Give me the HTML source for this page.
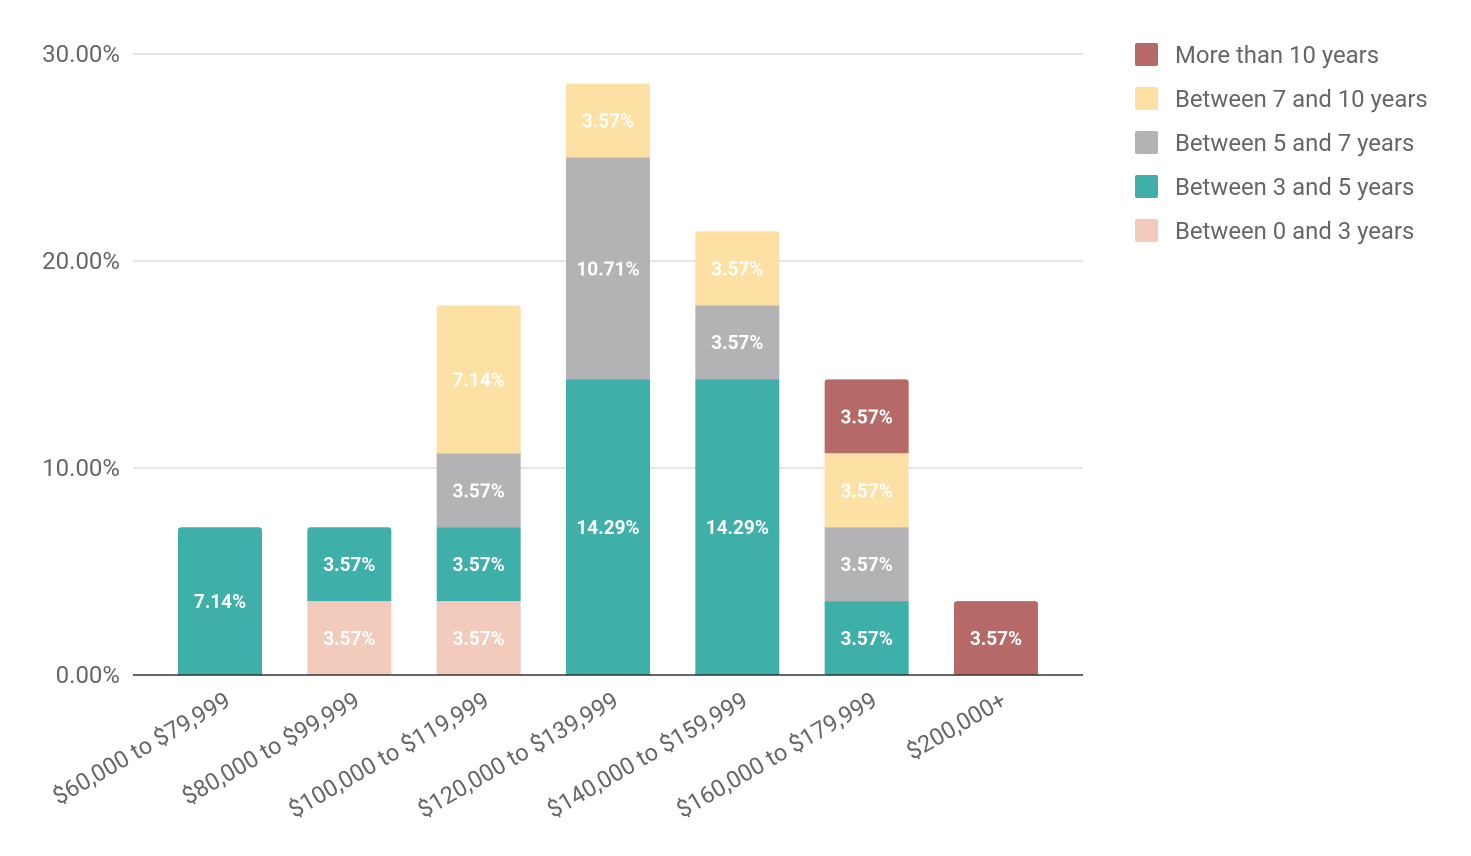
<!DOCTYPE html>
<html><head><meta charset="utf-8"><style>
html,body{margin:0;padding:0;background:#fff;}
svg{display:block;font-family:"Roboto","Liberation Sans",sans-serif;}
</style></head><body>
<svg id="chart" width="1471" height="856"></svg>
<script>
const categories=["$60,000 to $79,999","$80,000 to $99,999","$100,000 to $119,999","$120,000 to $139,999","$140,000 to $159,999","$160,000 to $179,999","$200,000+"];
const seriesNames=["Between 0 and 3 years","Between 3 and 5 years","Between 5 and 7 years","Between 7 and 10 years","More than 10 years"];
const s0to3=[0,3.57,3.57,0,0,0,0];
const s3to5=[7.14,3.57,3.57,14.29,14.29,3.57,0];
const s5to7=[0,0,3.57,10.71,3.57,3.57,0];
const s7to10=[0,0,7.14,3.57,3.57,3.57,0];
const s10plus=[0,0,0,0,0,3.57,3.57];
const yTicks=[0,10,20,30];
const colors=["#f2cbbd","#3fafa9","#b3b3b5","#fde0a3","#b56a68"];
const series=[s0to3,s3to5,s5to7,s7to10,s10plus];
const NS="http://www.w3.org/2000/svg";
const svg=document.getElementById('chart');
const y=v=>675-v*20.7;
const x=i=>220+i*129.33;
const bw=84;
function mk(t,a,p){const e=document.createElementNS(NS,t);for(const k in a)e.setAttribute(k,a[k]);(p||svg).appendChild(e);return e;}
yTicks.forEach(t=>{
  if(t>0){const g=mk('line',{x1:133,x2:1083,y1:y(t),y2:y(t),stroke:'#cccccc','stroke-width':1});
  
  }
  const l=mk('text',{x:120,y:y(t)+8,'text-anchor':'end','font-size':24,fill:'#666'});
  l.textContent=t.toFixed(2)+'%';
  
  
});
categories.forEach((c,i)=>{
  let base=0;let top=-1;
  series.forEach((s,k)=>{if(s[i]>0)top=k;});
  series.forEach((s,k)=>{
    const v=s[i];if(v<=0)return;
    const y1=y(base+v),h=y(base)-y1;
    let r;
    if(k===top){
      const x0=x(i)-bw/2,rr=3;
      r=mk('path',{d:`M${x0},${y(base)}V${y1+rr}Q${x0},${y1} ${x0+rr},${y1}H${x0+bw-rr}Q${x0+bw},${y1} ${x0+bw},${y1+rr}V${y(base)}Z`,fill:colors[k]});
    }else r=mk('rect',{x:x(i)-bw/2,y:y1,width:bw,height:h,fill:colors[k]});
    
    
    const t=mk('text',{x:x(i),y:y1+h/2+7,'text-anchor':'middle','font-size':19,'font-weight':'bold',fill:'#fff'});
    t.textContent=v.toFixed(2)+'%';
    
    
    base+=v;
  });
  const xl=mk('text',{x:x(i)+12,y:705,'text-anchor':'end','font-size':23.5,fill:'#666',transform:`rotate(-30 ${x(i)+12} 705)`});
  xl.textContent=c;
  
  
});
const ax=mk('line',{x1:133,x2:1083,y1:675,y2:675,stroke:'#333','stroke-width':1.5});


for(let k=4;k>=0;k--){
  const row=4-k,yy=43+row*44;
  const sq=mk('rect',{x:1135,y:yy,width:23,height:23,rx:2,fill:colors[k]});
  
  
  const lt=mk('text',{x:1175,y:yy+20,'font-size':23.9,fill:'#666'});
  lt.textContent=seriesNames[k];
  
  
}
</script>
</body></html>
